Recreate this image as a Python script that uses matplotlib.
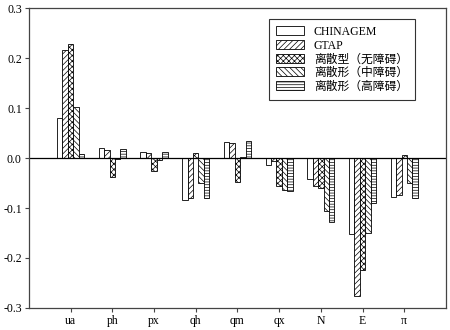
import numpy as np
import matplotlib
matplotlib.use("Agg")
import matplotlib.pyplot as plt

plt.rcParams['font.family'] = ['Liberation Serif', 'Noto Sans CJK SC']
plt.rcParams['hatch.linewidth'] = 0.5

categories = ["ua", "ph", "px", "qh", "qm", "qx", "N", "E", "π"]
series_names = ["CHINAGEM", "GTAP", "离散型（无障碍）", "离散形（中障碍）", "离散形（高障碍）"]

chinagem = [0.080, 0.020, 0.013, -0.083, 0.033, -0.013, -0.042, -0.152, -0.077]
gtap = [0.216, 0.017, 0.011, -0.080, 0.030, -0.005, -0.055, -0.276, -0.074]
wu = [0.228, -0.038, -0.025, 0.010, -0.048, -0.056, -0.060, -0.224, 0.006]
zhong = [0.102, -0.002, -0.003, -0.050, 0.003, -0.064, -0.105, -0.150, -0.050]
gao = [0.008, 0.019, 0.012, -0.080, 0.035, -0.065, -0.128, -0.090, -0.080]

hatches = ["", "//////", "xxxxxx", "\\\\\\\\\\\\", "------"]

fig = plt.figure(figsize=(4.5, 3.3), dpi=100)
ax = fig.add_axes([0.064, 0.067, 0.927, 0.908])

x = np.arange(len(categories))
w = 0.13
for i, (vals, name, h) in enumerate(zip([chinagem, gtap, wu, zhong, gao], series_names, hatches)):
    ax.bar(x + (i - 2) * w, vals, w, color="white", edgecolor="black",
           linewidth=0.6, hatch=h, label=name)

ax.axhline(0, color="black", linewidth=0.9)
ax.set_xlim(-1, 9)
ax.set_ylim(-0.3, 0.3)
ax.set_xticks(x)
ax.set_xticklabels(categories)
ax.set_yticks([-0.3, -0.2, -0.1, 0.0, 0.1, 0.2, 0.3])
ax.set_yticklabels(["-0.3", "-0.2", "-0.1", "0.0", "0.1", "0.2", "0.3"])
ax.tick_params(labelsize=8.5, length=3, width=0.8, pad=2, color="#444444")
for s in ax.spines.values():
    s.set_linewidth(0.9)
    s.set_color("#444444")

leg = ax.legend(loc="upper right", bbox_to_anchor=(0.94, 0.985), fontsize=8.5,
                frameon=True, fancybox=False, edgecolor="black",
                handlelength=2.4, handleheight=0.8, labelspacing=0.15,
                borderpad=0.6, handletextpad=0.8)
leg.get_frame().set_linewidth(0.8)

fig.savefig("out.png", dpi=100)
